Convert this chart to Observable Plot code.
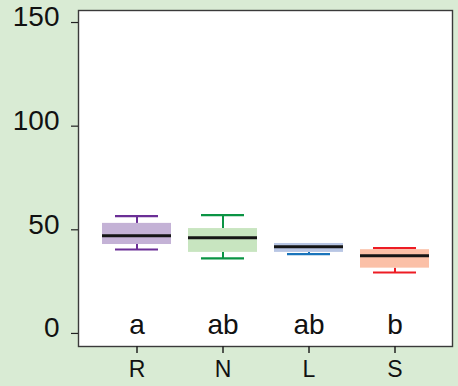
<!DOCTYPE html>
<html>
<head>
<meta charset="utf-8">
<script src="https://cdn.jsdelivr.net/npm/d3@7"></script>
<script src="https://cdn.jsdelivr.net/npm/@observablehq/plot@0.6"></script>
<style>
  html, body { margin: 0; padding: 0; background: #d9ebd4; }
  #chart { width: 458px; height: 386px; }
</style>
</head>
<body>
<div id="chart"></div>
<script>
const groups = ["R", "N", "L", "S"];
const mins = [40.5, 36.2, 38.3, 29.4];
const q1s = [42.9, 39.1, 39.1, 31.5];
const medians = [47.1, 46.2, 41.8, 37.5];
const q3s = [53.1, 50.6, 43.4, 40.4];
const maxs = [56.6, 57.1, 43.4, 41.2];
const letters = ["a", "ab", "ab", "b"];
const fills = ["#c4b2d6", "#c8e5c0", "#b8c6e4", "#fbc0a7"];
const strokes = ["#6b2f96", "#0b9444", "#1a74bb", "#ed1c24"];
const yTicks = [0, 50, 100, 150];

const data = groups.map((g, i) => ({
  group: g, min: mins[i], q1: q1s[i], median: medians[i], q3: q3s[i], max: maxs[i],
  letter: letters[i], fill: fills[i], stroke: strokes[i]
}));

const font = "'Liberation Sans', Arial, sans-serif";

const chart = Plot.plot({
  width: 458,
  height: 386,
  marginLeft: 78,
  marginRight: 6,
  marginTop: 10,
  marginBottom: 40,
  style: { background: "transparent", fontFamily: font, color: "#111", overflow: "visible" },
  x: { domain: groups, paddingInner: 0.2, paddingOuter: 0.257, label: null },
  y: { domain: [-6.3, 155.8], label: null },
  color: { type: "identity" },
  marks: [
    Plot.frame({ fill: "white", stroke: "#3a3a3a", strokeWidth: 1.4 }),
    Plot.axisY({ ticks: yTicks, tickSize: 7, tickFormat: () => "", stroke: "#222", strokeWidth: 1.2 }),
    Plot.axisY({ ticks: yTicks, tickSize: 0, tickPadding: 19, fontSize: 28, dy: -5, fill: "#111" }),
    Plot.axisX({ tickSize: 7, tickFormat: () => "", stroke: "#222", strokeWidth: 1.5 }),
    Plot.axisX({ tickSize: 0, tickPadding: 14, fontSize: 23, fill: "#111" }),
    Plot.ruleX(data, { x: "group", y1: "min", y2: "q1", stroke: "stroke", strokeWidth: 2 }),
    Plot.ruleX(data, { x: "group", y1: "q3", y2: "max", stroke: "stroke", strokeWidth: 2 }),
    Plot.tickY(data, { x: "group", y: "min", stroke: "stroke", strokeWidth: 2.2, insetLeft: 13, insetRight: 13 }),
    Plot.tickY(data.filter(d => d.max > d.q3), { x: "group", y: "max", stroke: "stroke", strokeWidth: 2.2, insetLeft: 13, insetRight: 13 }),
    Plot.barY(data, { x: "group", y1: "q1", y2: "q3", fill: "fill" }),
    Plot.tickY(data, { x: "group", y: "median", stroke: "#151515", strokeWidth: 3 }),
    Plot.text(data, { x: "group", y: 0, text: "letter", lineAnchor: "bottom", fontSize: 28, fill: "#111", dy: 1 })
  ]
});
document.getElementById("chart").appendChild(chart);
</script>
</body>
</html>
